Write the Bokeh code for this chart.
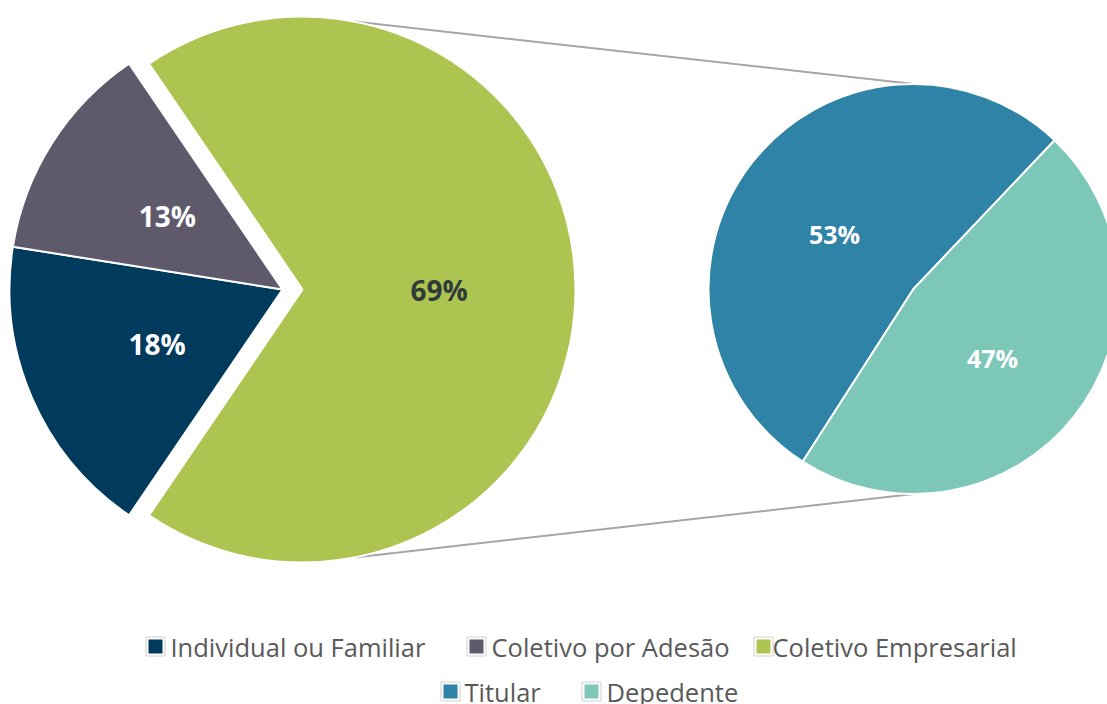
import numpy as np
from bokeh.plotting import figure
from bokeh.models import Range1d, ColumnDataSource
from bokeh.core.properties import value
from bokeh.embed import file_html
from bokeh.resources import INLINE

# ---- data ----
outer_labels = ["Individual ou Familiar", "Coletivo por Adesão", "Coletivo Empresarial"]
outer_values = [18, 13, 69]
inner_labels = ["Titular", "Depedente"]
inner_values = [53, 47]

# ---- styles / layout ----
outer_colors = ["#003A5C", "#5E596B", "#ADC451"]
outer_text_colors = ["white", "white", "#2F3B3B"]
inner_colors = ["#2E83A6", "#7CC7B8"]
W, H = 1107, 704
def Y(y):  # image-space y -> plot y
    return H - y

oc = (282.0, 289.0)   # outer pie centre (image coords)
R = 273.0
explode = 20.0        # offset of the last (exploded) slice
ic = (913.0, 288.5)
r2 = 205.0
inner_start = np.deg2rad(46.5)

p = figure(width=W, height=H, x_range=Range1d(0, W), y_range=Range1d(0, H),
           output_backend="svg", toolbar_location=None, min_border=0)
p.axis.visible = False
p.grid.visible = False
p.outline_line_color = None
p.background_fill_color = "white"
p.border_fill_color = "white"

# ---- outer pie (clockwise: navy, grey, green; green centred at 0 deg) ----
fr = np.array(outer_values, dtype=float) / sum(outer_values)
cum = np.concatenate([[0], np.cumsum(fr)])
a0 = (cum[-2] + fr[-1] / 2) * 2 * np.pi
ends = a0 - cum[:-1] * 2 * np.pi      # start of each slice (clockwise)
starts = a0 - cum[1:] * 2 * np.pi
mids = (starts + ends) / 2
cx = np.full(3, oc[0]); cy = np.full(3, oc[1])
cx[-1] += explode * np.cos(mids[-1]); cy[-1] -= explode * np.sin(mids[-1])

# connector lines from exploded slice to inner pie top/bottom
gx, gy = cx[-1], cy[-1]
ang = np.deg2rad(79)
p.segment(x0=[gx + R * np.cos(ang), gx + R * np.cos(ang)],
          y0=[Y(gy - R * np.sin(ang)), Y(gy + R * np.sin(ang))],
          x1=[ic[0], ic[0]], y1=[Y(ic[1] - r2), Y(ic[1] + r2)],
          line_color="#A6A6A6", line_width=2)

src_o = ColumnDataSource(dict(x=cx, y=[Y(v) for v in cy], s=starts, e=ends,
                              c=outer_colors))
p.wedge(x="x", y="y", radius=R, start_angle="s", end_angle="e",
        fill_color="c", line_color="white", line_width=2, source=src_o)

lx = cx + 0.5 * R * np.cos(mids)
ly = [Y(v) for v in (cy - 0.5 * R * np.sin(mids))]
p.text(x=lx, y=ly, text=[f"{v}%" for v in outer_values], text_color=outer_text_colors,
       text_font=value("Open Sans"), text_font_style="bold", text_font_size="28px",
       text_align="center", text_baseline="middle")

# ---- inner pie ----
fr2 = np.array(inner_values, dtype=float) / sum(inner_values)
cum2 = np.concatenate([[0], np.cumsum(fr2)])
s2 = inner_start + cum2[:-1] * 2 * np.pi
e2 = inner_start + cum2[1:] * 2 * np.pi
m2 = (s2 + e2) / 2
src_i = ColumnDataSource(dict(x=[ic[0]] * 2, y=[Y(ic[1])] * 2, s=s2, e=e2, c=inner_colors))
p.wedge(x="x", y="y", radius=r2, start_angle="s", end_angle="e",
        fill_color="c", line_color="white", line_width=2, source=src_i)
ilx = ic[0] + 0.49 * r2 * np.cos(m2)
ily = [Y(v + 7) for v in (ic[1] - 0.49 * r2 * np.sin(m2))]
p.text(x=ilx, y=ily, text=[f"{v}%" for v in inner_values], text_color="white",
       text_font=value("Open Sans"), text_font_style="bold", text_font_size="25px",
       text_align="center", text_baseline="middle")

# ---- legend (manual, two rows) ----
leg_labels = outer_labels + inner_labels
leg_colors = outer_colors + inner_colors
leg_mx = [155, 476, 763, 450, 591]
leg_tx = [170, 491, 772, 464, 606]
leg_y = [646, 646, 646, 691, 691]
p.scatter(x=leg_mx, y=[Y(v) for v in leg_y], marker="square", size=19,
          fill_color="white", line_color="#D0D0D0", line_width=1)
p.scatter(x=leg_mx, y=[Y(v) for v in leg_y], marker="square", size=14,
          fill_color=leg_colors, line_color=None)
p.text(x=leg_tx, y=[Y(v) for v in leg_y], text=leg_labels, text_color="#595959",
       text_font=value("Open Sans"), text_font_size="25.5px",
       text_align="left", text_baseline="middle")

open("out.html", "w").write(file_html(p, INLINE))
